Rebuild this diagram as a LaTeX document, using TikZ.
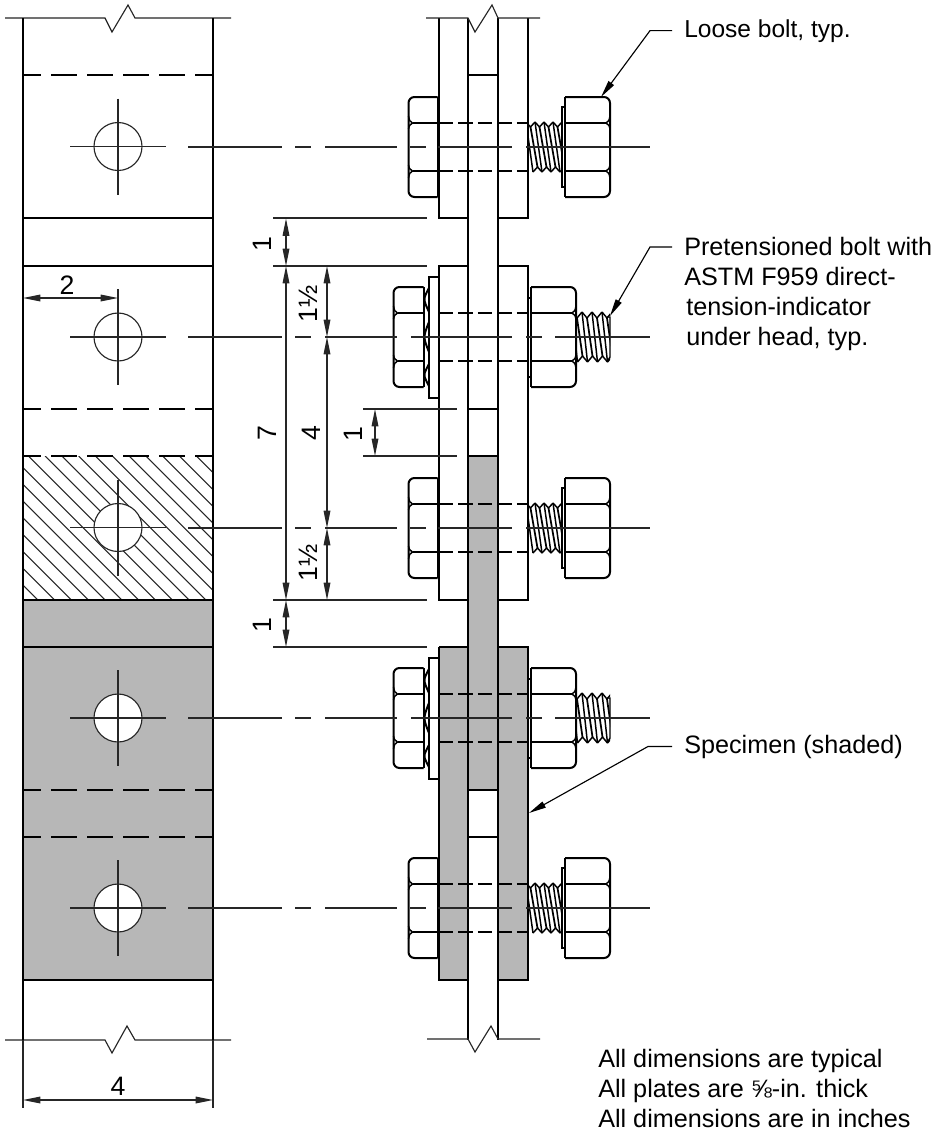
\documentclass[tikz,border=0pt]{standalone}
\usepackage{fontspec}
\setmainfont{Liberation Sans}
\usetikzlibrary{arrows.meta}
\definecolor{specgray}{HTML}{B7B7B7}
\tikzset{
  x=0.75pt,y=-0.75pt,
  obj/.style={line width=1.5pt,black},
  mid/.style={line width=1.1pt,black},
  hair/.style={line width=0.85pt,black!85},
  hid/.style={line width=1.1pt,black,dash pattern=on 19.5pt off 7.5pt,dash phase=6pt},
  shaft/.style={line width=1.05pt,black,dash pattern=on 10.8pt off 3.8pt},
  dimline/.style={line width=0.85pt,black!85,{Triangle[length=13pt,width=5pt]}-{Triangle[length=13pt,width=5pt]}},
  leaderline/.style={line width=0.85pt,black,-{Triangle[length=13pt,width=5pt]}},
  hatchline/.style={line width=0.8pt,black!85},
  label/.style={font=\fontsize{18.9pt}{22.5pt}\selectfont,inner sep=0pt},
  dimlabel/.style={font=\fontsize{20pt}{22pt}\selectfont,inner sep=0pt},
}
% hexagon head or nut with its rounded face to the left / right, local y about the bolt axis
\newcommand{\hexLeft}[2]{%
  \draw[obj,fill=white,rounded corners=4.5pt] (#2,-50) -- (#1,-50) -- (#1,50) -- (#2,50);
  \draw[obj] (#2,-50) -- (#2,50);
  \draw[obj] (#2,-24) -- (#1+4,-24) (#2,24) -- (#1+4,24);
  \draw[mid] (#1,-31) .. controls (#1+1,-26) .. (#1+4,-24) .. controls (#1+1,-22) .. (#1,-18);
  \draw[mid] (#1,31) .. controls (#1+1,26) .. (#1+4,24) .. controls (#1+1,22) .. (#1,18);
}
\newcommand{\hexRight}[2]{%
  \draw[obj,fill=white,rounded corners=4.5pt] (#1,-50) -- (#2,-50) -- (#2,50) -- (#1,50);
  \draw[obj] (#1,-50) -- (#1,50);
  \draw[obj] (#1,-24) -- (#2-4,-24) (#1,24) -- (#2-4,24);
  \draw[mid] (#2,-31) .. controls (#2-1,-26) .. (#2-4,-24) .. controls (#2-1,-22) .. (#2,-18);
  \draw[mid] (#2,31) .. controls (#2-1,26) .. (#2-4,24) .. controls (#2-1,22) .. (#2,18);
}
\newcommand{\shaftLines}{%
  \draw[shaft] (439,-24) -- (528,-24) (439,24) -- (528,24);
}
% loose bolt: axis at y=#1
\newcommand{\boltLoose}[1]{%
  \begin{scope}[shift={(0,#1)}]
    \hexLeft{408.5}{437.5}
    \draw[line width=2pt] (438,-50) -- (438,50);
    \shaftLines
    \begin{scope}
      \clip (528,-32) rectangle (562,32);
      \foreach \k in {0,1,2,3}{
        \pgfmathsetmacro{\T}{526+9*\k}
        \draw[mid] (\T,-25) -- (\T+7,25);
        \draw[line width=1.3pt] (\T+4.5,-20) -- (\T+11.5,20);
        \draw[mid] (\T,-25) -- (\T+4.5,-20) -- (\T+9,-25);
        \draw[mid] (\T+7,25) -- (\T+11.5,20) -- (\T+16,25);
      }
    \end{scope}
    \draw[mid] (528.5,-25) -- (528.5,25);
    \draw[mid,fill=white] (562,-40) rectangle (565,40);
    \hexRight{565}{610}
    \draw[hair] (188,0) -- (282,0) (295,0) -- (311,0) (325,0) -- (397,0)
                (410,0) -- (426,0) (438,0) -- (512,0) (526,0) -- (650,0);
  \end{scope}
}
% pretensioned bolt with direct-tension indicator: axis at y=#1
\newcommand{\boltTensioned}[1]{%
  \begin{scope}[shift={(0,#1)}]
    \hexLeft{393.5}{423.5}
    \draw[mid,fill=white] (429,-60) rectangle (438.5,61);
    \draw[obj] (429,-49) .. controls (423,-38) .. (429,-25);
    \draw[obj] (429,-15) .. controls (423,0) .. (429,15);
    \draw[obj] (429,27) .. controls (423,38) .. (429,49);
    \shaftLines
    \begin{scope}
      \clip (576,-32) rectangle (610,32);
      \foreach \k in {-1,0,1,2}{
        \pgfmathsetmacro{\T}{582+10*\k}
        \draw[mid] (\T,-25) -- (\T+5.5,25);
        \draw[line width=1.3pt] (\T+5,-19) -- (\T+10.5,19);
        \draw[mid] (\T,-25) -- (\T+5,-19) -- (\T+10,-25);
        \draw[mid] (\T+5.5,25) -- (\T+10.5,19) -- (\T+15.5,25);
      }
    \end{scope}
    \draw[mid] (607,-20) -- (610,-20) -- (610,20) -- (607,25);
    \draw[mid,fill=white] (528,-39) rectangle (531,40);
    \hexRight{531}{576}
    \draw[hair] (188,0) -- (282,0) (295,0) -- (311,0) (325,0) -- (397,0)
                (411,0) -- (512,0) (526,0) -- (542,0) (555,0) -- (650,0);
  \end{scope}
}
\newcommand{\holeMark}[1]{%
  \draw[hair,fill=white] (118,#1) circle[radius=24];
  \draw[hair] (70,#1) -- (166,#1) (118,#1-48) -- (118,#1+48);
}
\begin{document}
\begin{tikzpicture}
\useasboundingbox (0,0) rectangle (940,1133);
\fill[white] (0,0) rectangle (940,1133);

% ---------- left elevation ----------
\fill[specgray] (23,600) rectangle (213,980);
\begin{scope}
  \clip (23,456) rectangle (213,600);
  \foreach \k in {-9,...,11}{
    \pgfmathsetmacro{\X}{28.3+16.8*\k}
    \draw[hatchline] (\X,456) -- (\X+144,600);
  }
\end{scope}
\draw[hair] (5,18) -- (105,18) -- (112,32) -- (128,5) -- (135,18) -- (231,18);
\draw[hair] (5,1040) -- (105,1040) -- (112,1053) -- (127,1026) -- (135,1040) -- (231,1040);
\draw[obj] (23,18) -- (23,1040) (213,18) -- (213,1040);
\draw[hair] (23,1040) -- (23,1108) (213,1040) -- (213,1108);
\foreach \yy in {218,266,600,647,980}{ \draw[obj] (23,\yy) -- (213,\yy); }
\foreach \yy in {75,409,456,790,837}{ \draw[hid] (23,\yy) -- (213,\yy); }
\foreach \yy in {146.5,337,527.5,718,908}{ \holeMark{\yy} }

% ---------- section: plates ----------
\fill[specgray] (468,456) rectangle (498,790);
\fill[specgray] (439,647) rectangle (468,980) (498,647) rectangle (528,980);
\draw[obj] (439,18) -- (439,218) -- (468,218) (528,18) -- (528,218) -- (498,218);
\draw[obj] (468,266) -- (439,266) -- (439,600) -- (468,600) (498,266) -- (528,266) -- (528,600) -- (498,600);
\draw[obj] (439,647) -- (468,647) (498,647) -- (528,647) -- (528,980) -- (498,980) (468,980) -- (439,980) -- (439,647);
\draw[obj] (468,18) -- (468,1040) (498,18) -- (498,1040);
\foreach \yy in {75,409,456,790,837}{ \draw[obj] (468,\yy) -- (498,\yy); }
\draw[hair] (426,18) -- (468,18) -- (475,32) -- (492,5) -- (498,18) -- (540,18);
\draw[hair] (427,1039) -- (468,1039) -- (475,1052) -- (491,1026) -- (498,1039) -- (540,1039);

% ---------- bolts ----------
\boltLoose{147}
\boltTensioned{337}
\boltLoose{528}
\boltTensioned{718}
\boltLoose{908}

% ---------- dimensions ----------
\draw[hair] (273,218) -- (427,218) (273,266) -- (427,266) (273,600) -- (427,600) (273,647) -- (427,647);
\draw[hair] (363,409) -- (457,409) (363,456) -- (457,456);
\draw[dimline] (286,218.5) -- (286,266);
\draw[dimline] (286,266) -- (286,600);
\draw[dimline] (286,600) -- (286,647);
\draw[dimline] (327,266) -- (327,337);
\draw[dimline] (327,337) -- (327,528);
\draw[dimline] (327,528) -- (327,600);
\draw[dimline] (375,409) -- (375,456);
\draw[dimline] (23,298) -- (118,298);
\draw[dimline] (23,1100) -- (213,1100);

\node[dimlabel,rotate=90] (d1a) at (262,244) {1};
\node[dimlabel,rotate=90] (d1b) at (262,625) {1};
\node[dimlabel,rotate=90] (d1c) at (353,434) {1};
\node[dimlabel,rotate=90] (d7) at (267,433) {7};
\node[dimlabel,rotate=90] (d4a) at (311,433) {4};
\node[dimlabel,rotate=90] (d15a) at (308,304) {1½};
\node[dimlabel,rotate=90] (d15b) at (308,563) {1½};
\node[dimlabel] (d2) at (67,285) {2};
\node[dimlabel] (d4b) at (118,1086) {4};

% ---------- notes and leaders ----------
\node[label,anchor=base west] (loose) at (684,37) {\fontsize{18.4pt}{22pt}\selectfont Loose bolt, typ.};
\node[label,anchor=north west,align=left] (pre) at (684,237) {Pretensioned bolt with\\ASTM F959 direct-\\\hspace*{1.5pt}tension-indicator\\\hspace*{1.5pt}under head, typ.};
\node[label,anchor=base west] (spec) at (684,753) {Specimen (shaded)};
\node[label,anchor=north west,align=left] (notes) at (598,1049) {All dimensions are typical\\All plates are ⅝-in. thick\\All dimensions are in inches};

\coordinate (tipLoose) at (601,97);
\coordinate (tipPre) at (610,316);
\coordinate (tipSpec) at (529,813);
\draw[leaderline] (loose.west) ++(-12,0) -- ++(-22,0) -- (tipLoose);
\draw[leaderline] (pre.north west) ++(-12,10) -- ++(-22,0) -- (tipPre);
\draw[leaderline] (spec.west) ++(-12,0) -- ++(-24,0) -- (tipSpec);
\end{tikzpicture}
\end{document}
